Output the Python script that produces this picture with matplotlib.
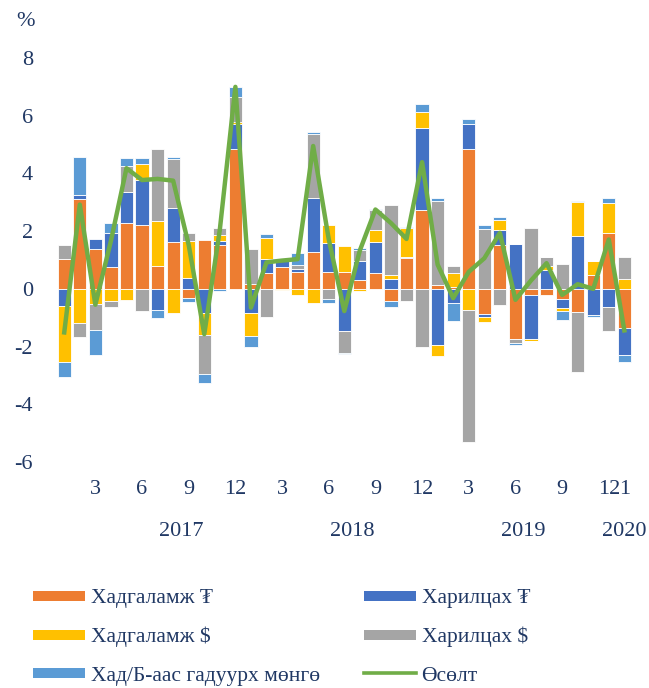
import matplotlib.pyplot as plt
import numpy as np
from matplotlib.lines import Line2D

plt.rcParams['font.family'] = ['Liberation Serif', 'DejaVu Serif']
plt.rcParams['axes.unicode_minus'] = False
TXT = '#203864'

# сар бүрийн өөрчлөлт, 2017.01 - 2020.01
hadg_mnt = [1.03, 3.13, 1.38, 0.75, 2.29, 2.22, 0.80, 1.62, -0.30, 1.71, 1.53, 4.83,
            0.17, 0.54, 0.74, 0.58, 1.26, 0.57, 0.58, 0.29, 0.54, -0.41, 1.06, 2.74,
            0.12, 0.08, 4.83, -0.87, 1.53, -1.74, -0.21, -0.23, -0.35, -0.79, 0.49, 1.93,
            -1.37]
har_mnt = [-0.61, 0.12, 0.35, 1.18, 1.06, 1.54, -0.73, 1.18, 0.39, -0.84, 0.12, 0.89,
           -0.84, 0.49, 0.27, 0.12, 1.89, 1.02, -1.46, 0.69, 1.08, 0.35, 0.06, 2.84,
           -1.94, -0.50, 0.89, -0.12, 0.50, 1.56, -1.54, 0.66, -0.32, 1.82, -0.90, -0.64,
           -0.93]
hadg_usd = [-1.93, -1.17, -0.53, -0.41, -0.38, 0.57, 1.54, -0.84, 1.27, -0.75, 0.23, 0.07,
            -0.81, 0.73, -0.03, -0.23, -0.50, 0.61, 0.91, -0.09, 0.41, 0.14, 0.98, 0.54,
            -0.37, 0.46, -0.73, -0.17, 0.34, 0.0, -0.05, 0.12, -0.09, 1.19, 0.46, 1.06,
            0.35]
har_usd = [0.50, -0.50, -0.89, -0.21, 0.89, -0.76, 2.49, 1.71, 0.29, -1.37, 0.23, 0.86,
           1.22, -0.98, 0.0, 0.12, 2.20, -0.35, -0.78, 0.37, 0.69, 2.43, -0.41, -2.03,
           2.94, 0.25, -4.57, 2.07, -0.56, -0.15, 2.11, 0.31, 0.86, -2.08, 0.0, -0.82,
           0.74]
gadna = [-0.50, 1.32, -0.87, 0.35, 0.31, 0.19, -0.29, 0.07, -0.14, -0.31, -0.06, 0.35,
         -0.38, 0.14, 0.0, 0.43, 0.09, -0.13, -0.03, 0.06, 0.03, -0.23, 0.03, 0.29,
         0.09, -0.61, 0.17, 0.15, 0.13, -0.06, -0.02, 0.03, -0.31, 0.02, -0.06, 0.17,
         -0.23]
osolt = [-1.51, 2.92, -0.55, 1.66, 4.18, 3.77, 3.81, 3.75, 1.52, -1.57, 2.05, 7.0,
         -0.65, 0.92, 0.98, 1.03, 4.95, 1.72, -0.77, 1.33, 2.75, 2.28, 1.73, 4.39,
         0.84, -0.32, 0.59, 1.06, 1.94, -0.38, 0.29, 0.89, -0.21, 0.16, 0.0, 1.71,
         -1.44]

months = ['3', '6', '9', '12'] * 3 + ['1']
month_pos = [2, 5, 8, 11, 14, 17, 20, 23, 26, 29, 32, 35, 36]
years = ['2017', '2018', '2019', '2020']
year_pos = [7.5, 18.5, 29.5, 36]

series = [('Хадгаламж ₮', hadg_mnt, '#ED7D31'),
          ('Харилцах ₮', har_mnt, '#4472C4'),
          ('Хадгаламж $', hadg_usd, '#FFC000'),
          ('Харилцах $', har_usd, '#A5A5A5'),
          ('Хад/Б-аас гадуурх мөнгө', gadna, '#5B9BD5')]

fig = plt.figure(figsize=(6.49, 6.88), dpi=100)
ax = fig.add_axes([0.087, 0.3285, 0.887, 0.5872])

x = np.arange(len(osolt))
pos = np.zeros(len(x))
neg = np.zeros(len(x))
for name, vals, col in series:
    v = np.array(vals)
    bottom = np.where(v >= 0, pos, neg)
    ax.bar(x, v, 0.85, bottom=bottom, color=col, edgecolor='white', linewidth=0.6)
    pos += np.where(v >= 0, v, 0)
    neg += np.where(v < 0, v, 0)

ax.plot(x, osolt, color='#70AD47', lw=3.2, zorder=5)

ax.set_xlim(-0.5, 36.5)
ax.set_ylim(-6, 8)
ax.set_yticks(range(-6, 9, 2))
ax.set_xticks(month_pos)
ax.set_xticklabels(months)
ax.tick_params(length=0, labelsize=16, colors=TXT)
ax.tick_params(axis='y', pad=17)
ax.tick_params(axis='x', pad=13)
for s in ax.spines.values():
    s.set_visible(False)

for yr, p in zip(years, year_pos):
    ax.text(p, -0.172, yr, transform=ax.get_xaxis_transform(), ha='center', va='center',
            fontsize=16, color=TXT)

fig.text(0.040, 0.969, '%', fontsize=16, color=TXT, ha='center', va='center')

h = {n: Line2D([], [], color=c, lw=7.2, solid_capstyle='butt') for n, _, c in series}
h['Өсөлт'] = Line2D([], [], color='#70AD47', lw=2.6)
left = ['Хадгаламж ₮', 'Хадгаламж $', 'Хад/Б-аас гадуурх мөнгө']
right = ['Харилцах ₮', 'Харилцах $', 'Өсөлт']
for names, bx in [(left, 0.051), (right, 0.561)]:
    lg = fig.legend([h[n] for n in names], names, loc='upper left', bbox_to_anchor=(bx, 0.145),
                    frameon=False, fontsize=15.5, handlelength=2.42, handletextpad=0.25,
                    labelspacing=0.86, borderpad=0, borderaxespad=0)
    for t in lg.get_texts():
        t.set_color(TXT)

fig.savefig('out.png', dpi=100)
